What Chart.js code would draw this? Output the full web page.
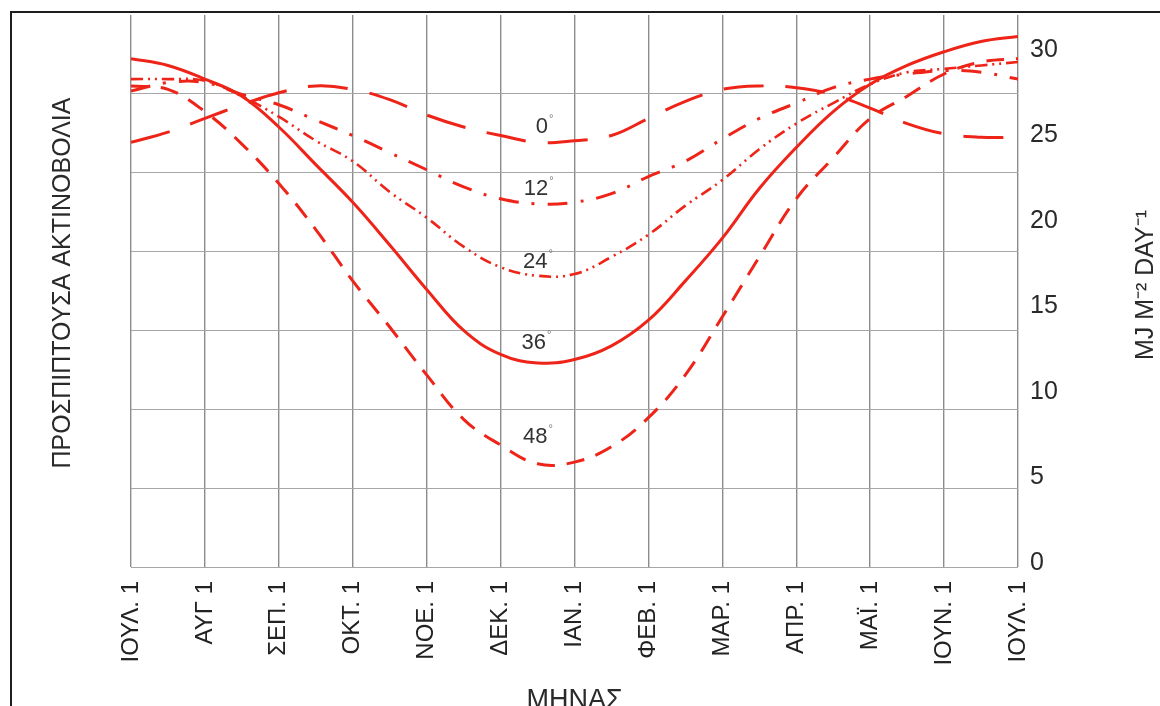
<!DOCTYPE html>
<html>

<head>
  <meta charset="UTF-8">
  <script src="https://cdn.jsdelivr.net/npm/chart.js"></script>
  <style>
    body { margin: 0; background: #fff; }
  </style>
</head>

<body>
  <canvas id="myChart" width="1160" height="706"></canvas>
  <script>
    // month axis: 0 = ΙΟΥΛ. 1 ... 12 = ΙΟΥΛ. 1 of next year
    const monthLabels = ["ΙΟΥΛ. 1", "ΑΥΓ 1", "ΣΕΠ. 1", "ΟΚΤ. 1", "ΝΟΕ. 1", "ΔΕΚ. 1", "ΙΑΝ. 1",
      "ΦΕΒ. 1", "ΜΑΡ. 1", "ΑΠΡ. 1", "ΜΑΪ. 1", "ΙΟΥΝ. 1", "ΙΟΥΛ. 1"];
    const monthPos = [0, 0.5, 1, 1.5, 2, 2.5, 3, 3.5, 4, 4.5, 5, 5.5, 6,
      6.5, 7, 7.5, 8, 8.5, 9, 9.5, 10, 10.5, 11, 11.5, 12];
    const yTicks = [0, 5, 10, 15, 20, 25, 30];

    // incident radiation, MJ m-2 day-1, per tilt angle
    const tilt0 = [24.6, 25.2, 26.0, 26.8, 27.5, 27.9, 27.7, 27.1, 26.2, 25.5, 25.0, 24.6, 24.7,
      25.0, 26.0, 27.0, 27.7, 27.9, 27.8, 27.4, 26.6, 25.7, 25.1, 24.9, 24.9];
    const tilt12 = [27.6, 28.1, 28.1, 27.4, 26.8, 25.9, 25.0, 24.0, 23.0, 22.0, 21.3, 21.0, 21.1,
      21.6, 22.6, 23.5, 24.8, 26.0, 26.9, 27.8, 28.3, 28.6, 28.8, 28.7, 28.3];
    const tilt24 = [28.3, 28.3, 28.2, 27.3, 26.1, 24.7, 23.5, 21.7, 20.2, 18.5, 17.3, 16.8, 16.9,
      17.9, 19.2, 20.9, 22.4, 24.2, 25.7, 26.9, 28.0, 28.7, 28.9, 29.1, 29.3];
    const tilt36 = [29.5, 29.1, 28.3, 27.3, 25.5, 23.3, 21.1, 18.6, 16.0, 13.6, 12.2, 11.7, 11.9,
      12.7, 14.2, 16.5, 19.0, 21.9, 24.3, 26.4, 28.0, 29.1, 29.9, 30.5, 30.8];
    const tilt48 = [27.9, 27.7, 26.4, 24.5, 22.2, 19.5, 16.5, 13.8, 11.0, 8.4, 6.9, 5.8, 5.9,
      6.8, 8.5, 11.0, 14.4, 17.9, 21.3, 23.7, 26.0, 27.3, 28.6, 29.3, 29.5];

    // curve labels (month position, value)
    const curveNames = ["0", "12", "24", "36", "48"];
    const curveLabelAt = [[5.56, 25.5], [5.48, 21.85], [5.47, 17.6], [5.45, 12.85], [5.47, 7.4]];

    const red = '#ee2419';
    const font = "'Liberation Sans', Arial, sans-serif";

    function pts(vals) {
      return vals.map((v, i) => ({ x: monthPos[i], y: v }));
    }

    // no extra room for overflowing tick labels, the frame is fixed
    function noPad(s) {
      s.paddingTop = 0;
      s.paddingBottom = 0;
      s.paddingLeft = 0;
      s.paddingRight = 0;
    }

    const decor = {
      id: 'decor',
      afterDraw(chart) {
        const ctx = chart.ctx;
        const xs = chart.scales.x, ys = chart.scales.y;
        ctx.save();
        // frame around the figure
        ctx.strokeStyle = '#1e1e1e';
        ctx.lineWidth = 2;
        ctx.strokeRect(11, 12, 1180, 740);

        ctx.fillStyle = '#2a2a2a';
        // left title
        ctx.save();
        ctx.translate(63, 283);
        ctx.rotate(-Math.PI / 2);
        ctx.font = '25px ' + font;
        ctx.textAlign = 'center';
        ctx.textBaseline = 'middle';
        ctx.fillText('ΠΡΟΣΠΙΠΤΟΥΣΑ ΑΚΤΙΝΟΒΟΛΙΑ', 0, 0);
        ctx.restore();
        // right title
        ctx.save();
        ctx.translate(1146, 285);
        ctx.rotate(-Math.PI / 2);
        ctx.font = '25px ' + font;
        ctx.textAlign = 'center';
        ctx.textBaseline = 'middle';
        ctx.fillText('MJ M⁻² DAY⁻¹', 0, 0);
        ctx.restore();
        // x title
        ctx.font = '27px ' + font;
        ctx.textAlign = 'center';
        ctx.textBaseline = 'alphabetic';
        ctx.fillText('ΜΗΝΑΣ', (xs.left + xs.right) / 2, 708);

        // tilt labels on the curves
        ctx.fillStyle = '#333';
        curveNames.forEach((name, i) => {
          const px = xs.getPixelForValue(curveLabelAt[i][0]);
          const py = ys.getPixelForValue(curveLabelAt[i][1]);
          ctx.font = '22px ' + font;
          ctx.textAlign = 'center';
          ctx.textBaseline = 'middle';
          ctx.fillText(name, px, py);
          const w = ctx.measureText(name).width;
          ctx.font = '11px ' + font;
          ctx.fillStyle = '#777';
          ctx.textAlign = 'left';
          ctx.fillText('°', px + w / 2 + 1, py - 8);
          ctx.fillStyle = '#333';
        });
        ctx.restore();
      }
    };

    new Chart(document.getElementById('myChart'), {
      type: 'line',
      data: {
        datasets: [
          { label: '0°', data: pts(tilt0), borderDash: [40, 22], borderWidth: 3 },
          { label: '12°', data: pts(tilt12), borderDash: [20, 13, 3, 13], borderWidth: 3 },
          { label: '24°', data: pts(tilt24), borderDash: [12, 5, 2, 5, 2, 5], borderWidth: 2.6 },
          { label: '36°', data: pts(tilt36), borderWidth: 3 },
          { label: '48°', data: pts(tilt48), borderDash: [18, 12], borderWidth: 3 }
        ].map(d => Object.assign(d, {
          borderColor: red,
          pointRadius: 0,
          tension: 0.4,
          fill: false,
          yAxisID: 'y'
        }))
      },
      options: {
        responsive: false,
        animation: false,
        layout: { padding: { top: 15, left: 0, right: 0, bottom: 0 } },
        plugins: {
          legend: { display: false },
          tooltip: { enabled: false }
        },
        scales: {
          x: {
            type: 'linear',
            min: 0,
            max: 12,
            afterBuildTicks: s => { s.ticks = monthLabels.map((l, i) => ({ value: i })); },
            afterFit: s => { s.height = 139; noPad(s); },
            grid: { color: '#8c8c8c', lineWidth: 1.4, drawTicks: false },
            border: { display: false },
            ticks: {
              autoSkip: false,
              minRotation: 90,
              maxRotation: 90,
              padding: 14,
              color: '#222',
              font: { family: font, size: 24 },
              callback: v => monthLabels[v]
            }
          },
          y: {
            position: 'right',
            min: -0.234,
            max: 32.05,
            afterBuildTicks: s => { s.ticks = yTicks.map(v => ({ value: v })); },
            afterFit: s => { s.width = 142; noPad(s); },
            grid: { display: false, drawTicks: false },
            border: { display: false },
            ticks: {
              padding: 12,
              color: '#2a2a2a',
              font: { family: font, size: 25 }
            }
          },
          yg: {
            position: 'left',
            min: 0,
            max: 7,
            afterBuildTicks: s => { s.ticks = [0, 1, 2, 3, 4, 5, 6].map(v => ({ value: v })); },
            afterFit: s => { s.width = 131; noPad(s); },
            grid: { color: '#a6a6a6', lineWidth: 1, drawTicks: false },
            border: { display: false },
            ticks: { display: false }
          }
        }
      },
      plugins: [decor]
    });
  </script>
</body>

</html>
